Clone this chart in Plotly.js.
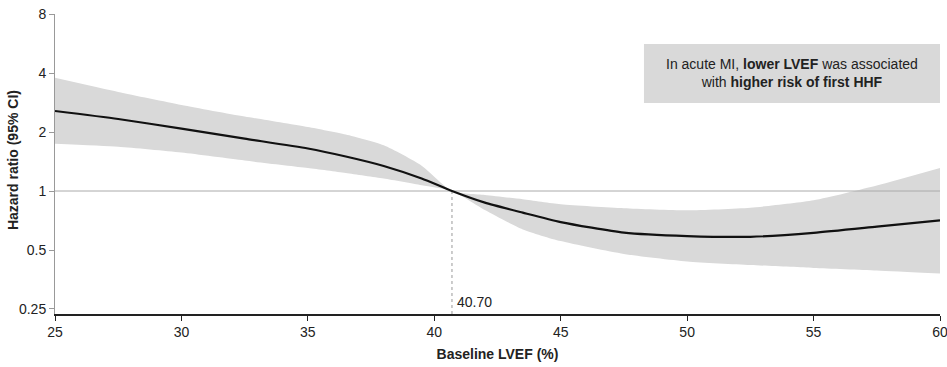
<!DOCTYPE html>
<html>
<head>
<meta charset="utf-8">
<script src="https://cdn.plot.ly/plotly-3.0.1.min.js"></script>
<style>html,body{margin:0;padding:0;background:#fff;}#chart{width:947px;height:367px;}</style>
</head>
<body>
<div id="chart"></div>
<script>
// Baseline LVEF (%)
const lvef = [25, 27.5, 30, 32.5, 35, 36.5, 38, 39.5, 40.7, 42, 43.5, 45, 47.5, 50, 52.5, 55, 57.5, 60];
// Hazard ratio estimate
const hr = [2.56, 2.33, 2.08, 1.85, 1.648, 1.50, 1.342, 1.158, 1.0, 0.872, 0.775, 0.694, 0.613, 0.589, 0.584, 0.612, 0.658, 0.709];
// 95% CI upper
const ciUpper = [3.78, 3.20, 2.75, 2.40, 2.12, 1.94, 1.71, 1.347, 1.0, 0.954, 0.907, 0.855, 0.816, 0.797, 0.822, 0.897, 1.067, 1.31];
// 95% CI lower
const ciLower = [1.74, 1.68, 1.57, 1.43, 1.31, 1.236, 1.157, 1.07, 1.0, 0.80, 0.637, 0.555, 0.477, 0.437, 0.419, 0.405, 0.393, 0.379];

const refHR = [1, 1];
const refX = [25, 60];
const cutoff = 40.7;
const cutoffLabel = "40.70";

const yTicks = [0.25, 0.5, 1, 2, 4, 8];
const yTickText = ["0.25", "0.5", "1", "2", "4", "8"];
const xTicks = [25, 30, 35, 40, 45, 50, 55, 60];

const font = "Liberation Sans, Arial, sans-serif";
const sm = 0.6;

const traces = [
  {x: lvef, y: ciUpper, mode: "lines", line: {width: 0, shape: "spline", smoothing: sm}, hoverinfo: "skip", showlegend: false},
  {x: lvef, y: ciLower, mode: "lines", line: {width: 0, shape: "spline", smoothing: sm}, fill: "tonexty", fillcolor: "#d9d9d9", hoverinfo: "skip", showlegend: false},
  {x: refX, y: refHR, mode: "lines", line: {color: "#aaaaaa", width: 1}, showlegend: false},
  {x: [cutoff, cutoff], y: [1, 0.2], mode: "lines", line: {color: "#999999", width: 1, dash: "3px,3px"}, showlegend: false},
  {x: lvef, y: hr, mode: "lines", line: {color: "#111111", width: 2.2, shape: "spline", smoothing: sm}, showlegend: false}
];

const layout = {
  width: 947, height: 367,
  margin: {l: 55, r: 7, t: 14, b: 53},
  paper_bgcolor: "#ffffff", plot_bgcolor: "#ffffff",
  font: {family: font, size: 14, color: "#222222"},
  xaxis: {
    range: [25, 60.0001], tickvals: xTicks, ticks: "outside", ticklen: 5, tickcolor: "#222",
    showline: true, linecolor: "#222", linewidth: 1.5, showgrid: false, zeroline: false,
    ticklabeloverflow: "allow",
    tickfont: {size: 14, color: "#222"},
    title: {text: "<b>Baseline LVEF (%)</b>", font: {size: 14, color: "#222"}, standoff: 10}
  },
  yaxis: {
    type: "log", range: [-0.6276, 0.90309], tickvals: yTicks, ticktext: yTickText,
    ticks: "outside", ticklen: 5, tickcolor: "#999",
    showline: true, linecolor: "#999", linewidth: 1, showgrid: false, zeroline: false,
    ticklabeloverflow: "allow",
    tickfont: {size: 14, color: "#222"}
  },
  shapes: [
    {type: "rect", xref: "paper", yref: "paper", x0: 0.6655, x1: 1.0, y0: 0.703, y1: 0.9, fillcolor: "#d9d9d9", line: {width: 0}, layer: "above"}
  ],
  annotations: [
    {xref: "paper", yref: "paper", x: 0, y: 0.513, xanchor: "center", yanchor: "middle", xshift: -42, textangle: -90, showarrow: false,
     text: "<b>Hazard ratio (95% CI)</b>", font: {size: 14, color: "#222"}},
    {xref: "paper", yref: "paper", x: 0.833, y: 0.8017, xanchor: "center", yanchor: "middle", showarrow: false,
     text: "In acute MI, <b>lower LVEF</b> was associated<br>with <b>higher risk of first HHF</b>",
     font: {size: 14, color: "#222"}, align: "center"},
    {xref: "x", yref: "paper", x: cutoff, y: 0.04, xanchor: "left", yanchor: "middle", xshift: 3, showarrow: false,
     text: cutoffLabel, font: {size: 14, color: "#222"}}
  ]
};

Plotly.newPlot("chart", traces, layout, {staticPlot: true, displayModeBar: false});
</script>
</body>
</html>
